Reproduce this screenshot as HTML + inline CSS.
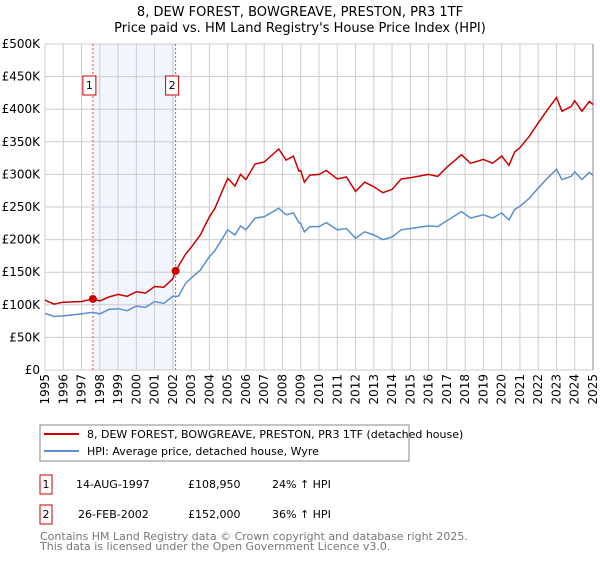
<!DOCTYPE html>
<html><head><meta charset="utf-8"><style>
body{margin:0;background:#fff;font-family:"DejaVu Sans","Liberation Sans",sans-serif}
svg text{font-family:"DejaVu Sans","Liberation Sans",sans-serif}
</style></head><body>
<svg id="c" width="600" height="560" viewBox="0 0 600 560" xmlns="http://www.w3.org/2000/svg">
<text x="300" y="16" text-anchor="middle" font-size="13">8, DEW FOREST, BOWGREAVE, PRESTON, PR3 1TF</text>
<text x="300" y="32" text-anchor="middle" font-size="13">Price paid vs. HM Land Registry's House Price Index (HPI)</text>
<g id="plot"></g>
<g>
<rect x="40" y="425" width="369" height="36" fill="#fff" stroke="#888"/>
<line x1="44" y1="434" x2="79" y2="434" stroke="#cc0000" stroke-width="2"/>
<text x="87" y="438" font-size="11">8, DEW FOREST, BOWGREAVE, PRESTON, PR3 1TF (detached house)</text>
<line x1="44" y1="451" x2="79" y2="451" stroke="#5b8fd0" stroke-width="2"/>
<text x="87" y="455" font-size="11">HPI: Average price, detached house, Wyre</text>
</g>
<g font-size="11">
<rect x="40" y="475" width="12" height="19" fill="#fff" stroke="#cc0000"/>
<text x="46" y="488" text-anchor="middle">1</text>
<text x="76" y="488">14-AUG-1997</text><text x="188" y="488">£108,950</text><text x="272" y="488">24% ↑ HPI</text>
<rect x="40" y="505" width="12" height="19" fill="#fff" stroke="#cc0000"/>
<text x="46" y="518" text-anchor="middle">2</text>
<text x="78" y="518">26-FEB-2002</text><text x="188" y="518">£152,000</text><text x="272" y="518">36% ↑ HPI</text>
</g>
<text x="40" y="540" font-size="11" fill="#777">Contains HM Land Registry data © Crown copyright and database right 2025.</text>
<text x="40" y="550" font-size="11" fill="#777">This data is licensed under the Open Government Licence v3.0.</text>
</svg>
<script>
const hpiYears=[1995,1995.5,1996,1997,1997.6,1998,1998.5,1999,1999.5,2000,2000.5,2001,2001.5,2002,2002.3,2002.7,2003,2003.5,2004,2004.3,2005,2005.4,2005.7,2006,2006.5,2007,2007.8,2008.2,2008.6,2008.9,2009,2009.2,2009.5,2010,2010.4,2011,2011.5,2012,2012.5,2013,2013.5,2014,2014.5,2015,2016,2016.5,2017,2017.8,2018.3,2019,2019.5,2020,2020.4,2020.7,2021,2021.5,2022,2022.5,2023,2023.3,2023.8,2024,2024.4,2024.8,2025];
const hpiValues=[87,82,83,86,88.5,86,93,94,91,98,96,105,102,113,113,133,141,153,174,183,215,207,221,215,233,235,248,238,241,226,225,212,220,220,226,215,217,202,212,207,200,204,215,217,221,220,229,243,233,238,233,241,230,246,251,263,279,294,308,292,297,304,292,303,299];
const redYears=[1995,1995.5,1996,1997,1997.62,1998,1998.5,1999,1999.5,2000,2000.5,2001,2001.5,2002,2002.15,2002.7,2003,2003.5,2004,2004.3,2005,2005.4,2005.7,2006,2006.5,2007,2007.8,2008.2,2008.6,2008.9,2009,2009.2,2009.5,2010,2010.4,2011,2011.5,2012,2012.5,2013,2013.5,2014,2014.5,2015,2016,2016.5,2017,2017.8,2018.3,2019,2019.5,2020,2020.4,2020.7,2021,2021.5,2022,2022.5,2023,2023.3,2023.8,2024,2024.4,2024.8,2025];
const redValues=[107,101,104,105,108.95,106,112,116,113,120,118,128,127,140,152,178,188,207,235,248,294,282,300,292,316,319,339,322,328,305,306,288,299,300,306,293,296,274,288,281,272,277,293,295,300,297,311,330,317,323,317,328,314,334,341,358,379,399,418,397,404,413,397,412,407];
const saleYears=[1997.62,2002.15];
const saleValues=[108.95,152];
const saleLabels=["1","2"];
const yTicks=[0,50,100,150,200,250,300,350,400,450,500];
const yTickLabels=["£0","£50K","£100K","£150K","£200K","£250K","£300K","£350K","£400K","£450K","£500K"];
const xTicks=[1995,1996,1997,1998,1999,2000,2001,2002,2003,2004,2005,2006,2007,2008,2009,2010,2011,2012,2013,2014,2015,2016,2017,2018,2019,2020,2021,2022,2023,2024,2025];

const L=45,R=593,T=44,B=370,NS="http://www.w3.org/2000/svg";
const xs=y=>L+(y-1995)/30*(R-L);
const ys=v=>B-v/500*(B-T);
const g=document.getElementById('plot');
function mk(t,a){const e=document.createElementNS(NS,t);for(const k in a)e.setAttribute(k,a[k]);g.appendChild(e);return e;}
let e=mk('rect',{x:xs(saleYears[0]),y:T,width:xs(saleYears[1])-xs(saleYears[0]),height:B-T,fill:'#eef3fc',opacity:0.8});


yTicks.forEach((v,i)=>{
 let l=mk('line',{x1:L,x2:R,y1:ys(v),y2:ys(v),stroke:'#ccc'});
 
 
 let t=mk('text',{x:L-5,y:ys(v)+4,'text-anchor':'end','font-size':12});
 
 
 t.textContent=yTickLabels[i];
});
xTicks.forEach(yr=>{
 let l=mk('line',{x1:xs(yr),x2:xs(yr),y1:T,y2:B,stroke:'#ccc'});
 
 
 let t=mk('text',{x:0,y:0,'text-anchor':'end','font-size':12,transform:`translate(${xs(yr)+4},${B+4}) rotate(-90)`});
 
 
 t.textContent=yr;
});
saleYears.forEach((yr,i)=>{
 let l=mk('line',{x1:xs(yr),x2:xs(yr),y1:T,y2:B,stroke:'#e05050','stroke-dasharray':'2,2','stroke-width':1});
 
 
 let r=mk('rect',{x:xs(yr)-10,y:76,width:13,height:19,fill:'#fff',stroke:'#cc0000'});
 
 
 let t=mk('text',{x:xs(yr)-3.5,y:89,'text-anchor':'middle','font-size':11});
 
 
 t.textContent=saleLabels[i];
});
let ax=mk('line',{x1:R,x2:R,y1:T,y2:B,stroke:'#888'});


const path=(X,V)=>X.map((x,i)=>(i?'L':'M')+xs(x).toFixed(1)+','+ys(V[i]).toFixed(1)).join('');
let hp=mk('path',{d:path(hpiYears,hpiValues),fill:'none',stroke:'#5b8fd0','stroke-width':1.5});


let rp=mk('path',{d:path(redYears,redValues),fill:'none',stroke:'#cc0000','stroke-width':1.5});


saleYears.forEach((yr,i)=>{
 let c=mk('circle',{cx:xs(yr),cy:ys(saleValues[i]),r:4,fill:'#cc0000'});
 
 
});
</script>
</body></html>
